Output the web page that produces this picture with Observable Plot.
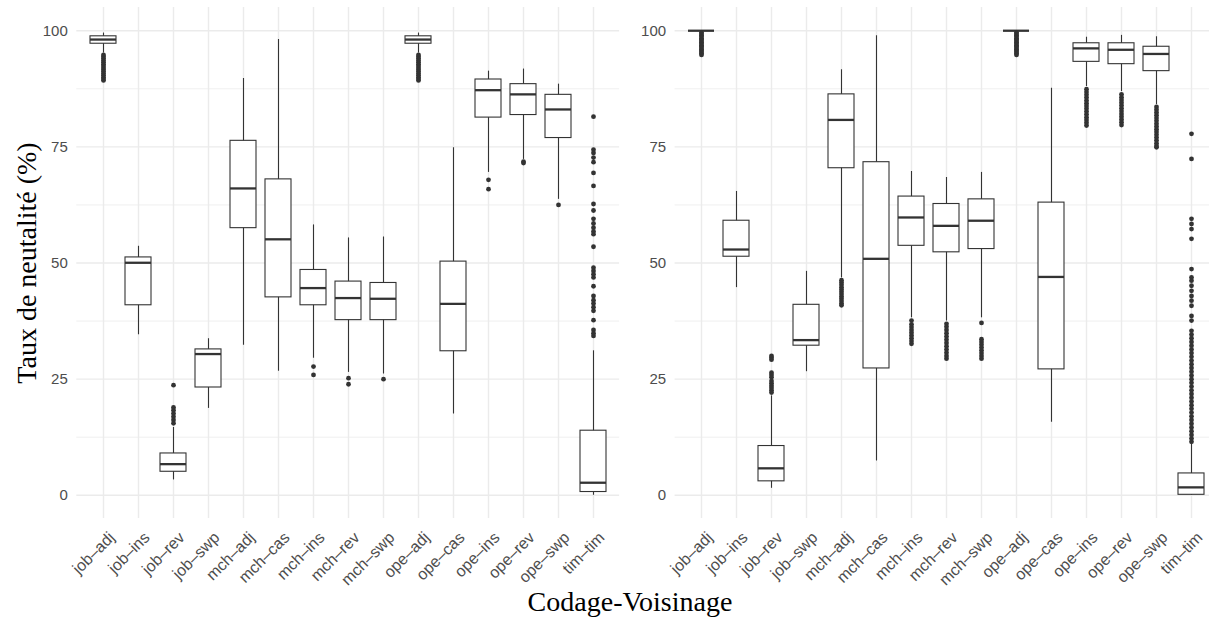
<!DOCTYPE html>
<html><head><meta charset="utf-8">
<script src="https://cdn.jsdelivr.net/npm/d3@7"></script>
<script src="https://cdn.jsdelivr.net/npm/@observablehq/plot@0.6"></script>
<style>
html,body{margin:0;padding:0;background:#fff;overflow:hidden;}
#wrap{position:relative;width:1209px;height:621px;overflow:hidden;background:#fff;}
#left{position:absolute;left:0;top:0;width:640px;}
#right{position:absolute;left:600px;top:0;width:620px;}
#wrap svg{max-width:none !important;background:transparent !important;}
#xtitle{position:absolute;left:0;width:1260px;text-align:center;top:588px;font-family:"Liberation Serif",serif;font-size:28px;line-height:28px;color:#000;}
</style></head>
<body><div id="wrap"><div id="left"></div><div id="right"></div><div id="xtitle"></div></div>
<script>
// ---- Data ----
const categories = ["job–adj","job–ins","job–rev","job–swp","mch–adj","mch–cas","mch–ins","mch–rev","mch–swp","ope–adj","ope–cas","ope–ins","ope–rev","ope–swp","tim–tim"];
const yTicks = [0, 25, 50, 75, 100];
const yMinorTicks = [12.5, 37.5, 62.5, 87.5];
const yTitle = "Taux de neutalité (%)";
const xTitle = "Codage-Voisinage";

// Left panel: box-plot statistics
const leftQ1     = [97.2, 40.9, 5.06, 23.2, 57.5, 42.6, 40.9, 37.7, 37.7, 97.2, 31.0, 81.3, 81.85, 76.9, 0.7];
const leftMedian = [98.1, 50.05, 6.7, 30.4, 66.05, 55.1, 44.6, 42.45, 42.3, 98.1, 41.2, 87.2, 86.3, 83.05, 2.7];
const leftQ3     = [98.8, 51.2, 9.0, 31.4, 76.3, 68.0, 48.5, 46.0, 45.7, 98.8, 50.3, 89.5, 88.5, 86.2, 13.9];
const leftLow    = [95.2, 34.55, 3.3, 18.7, 32.3, 26.7, 29.5, 26.45, 26.1, 95.2, 17.5, 69.5, 72.3, 63.7, 0.0];
const leftHigh   = [99.5, 53.6, 14.6, 33.7, 89.7, 98.1, 58.2, 55.4, 55.6, 99.5, 74.8, 91.3, 91.75, 88.5, 31.1];
const leftOutliers = [
  [94.8, 94.4, 94.0, 93.6, 93.2, 92.8, 92.4, 92.0, 91.6, 91.2, 90.8, 90.4, 90.0, 89.6, 89.3],
  [],
  [23.7, 18.9, 18.3, 17.6, 16.9, 16.2, 15.5],
  [],
  [],
  [],
  [27.7, 25.9],
  [25.2, 23.9],
  [25.0],
  [94.8, 94.4, 94.0, 93.6, 93.2, 92.8, 92.4, 92.0, 91.6, 91.2, 90.8, 90.4, 90.0, 89.6, 89.3],
  [],
  [67.9, 65.9],
  [71.8, 71.5],
  [62.5],
  [81.5, 74.4, 73.7, 72.7, 71.7, 69.4, 66.6, 62.7, 61.3, 59.5, 58.5, 57.6, 56.8, 56.2, 53.5, 49.0, 48.3, 47.6, 46.9, 45.0, 42.9, 42.0, 41.3, 40.5, 39.7, 37.7, 35.6, 34.9, 34.3]
];

// Right panel: box-plot statistics
const rightQ1     = [100, 51.35, 3.0, 32.2, 70.4, 27.3, 53.7, 52.3, 53.0, 100, 27.1, 93.3, 92.8, 91.3, 0.1];
const rightMedian = [100, 52.9, 5.8, 33.4, 80.8, 50.9, 59.8, 58.0, 59.1, 100, 47.0, 96.2, 95.9, 95.0, 1.7];
const rightQ3     = [100, 59.1, 10.6, 41.0, 86.3, 71.7, 64.3, 62.7, 63.7, 100, 63.0, 97.3, 97.3, 96.55, 4.7];
const rightLow    = [100, 44.7, 1.5, 26.6, 46.8, 7.4, 38.2, 37.5, 38.2, 100, 15.7, 88.0, 86.9, 84.1, 0.0];
const rightHigh   = [100, 65.4, 21.4, 48.2, 91.6, 98.9, 69.7, 68.4, 69.5, 100, 87.6, 98.6, 99.0, 98.7, 11.15];
const rightOutliers = [
  [99.6, 99.3, 99.0, 98.7, 98.4, 98.1, 97.8, 97.5, 97.2, 96.9, 96.6, 96.3, 96.0, 95.7, 95.4, 95.1, 94.8],
  [],
  [30.0, 29.6, 29.2, 26.4, 25.9, 25.4, 24.6, 24.1, 23.6, 23.1, 22.6, 22.1],
  [],
  [46.3, 45.8, 45.3, 44.8, 44.3, 43.8, 43.3, 42.8, 42.3, 41.8, 41.3, 40.9],
  [],
  [37.6, 36.8, 36.2, 35.6, 35.0, 34.4, 33.8, 33.2, 32.6],
  [36.9, 36.3, 35.6, 34.9, 34.2, 33.5, 32.8, 32.1, 31.4, 30.7, 30.0, 29.4],
  [37.1, 33.6, 33.0, 32.4, 31.8, 31.2, 30.6, 30.0, 29.4],
  [99.6, 99.3, 99.0, 98.7, 98.4, 98.1, 97.8, 97.5, 97.2, 96.9, 96.6, 96.3, 96.0, 95.7, 95.4, 95.1, 94.8],
  [],
  [87.4, 86.8, 86.2, 85.6, 85.0, 84.4, 83.8, 83.2, 82.6, 82.0, 81.4, 80.8, 80.2, 79.6],
  [86.3, 85.7, 85.1, 84.5, 83.9, 83.3, 82.7, 82.1, 81.5, 80.9, 80.3, 79.7],
  [83.6, 83.0, 82.4, 81.8, 81.2, 80.6, 80.0, 79.4, 78.8, 78.2, 77.6, 77.0, 76.4, 75.8, 75.2, 74.9],
  [77.8, 72.4, 59.5, 58.4, 57.3, 55.2, 48.7, 46.9, 46.2, 45.1, 44.0, 42.9, 41.9, 40.8, 38.6, 37.6,
   35.4, 34.6, 33.8, 33.0, 32.2, 31.4, 30.6, 29.8, 29.0, 28.2, 27.4, 26.6, 25.8, 25.0, 24.2, 23.4,
   22.6, 21.8, 21.0, 20.2, 19.4, 18.6, 17.8, 17.0, 16.2, 15.4, 14.6, 13.8, 13.0, 12.2, 11.5]
];

// ---- Drawing ----
const GRID = "#EBEBEB", INK = "#333333", TXT = "#4D4D4D";

function panel({q1, med, q3, lo, hi, outliers, width, marginLeft, marginRight, withTitle}) {
  const rows = categories.map((c, i) => ({cat: c, q1: q1[i], med: med[i], q3: q3[i], lo: lo[i], hi: hi[i]}));
  const pts = categories.flatMap((c, i) => outliers[i].map(v => ({cat: c, v})));
  const marks = [
    Plot.ruleY(yMinorTicks, {y: d => d, stroke: GRID, strokeWidth: 0.8}),
    Plot.ruleY(yTicks, {y: d => d, stroke: GRID, strokeWidth: 1.4}),
    Plot.ruleX(categories, {x: d => d, stroke: GRID, strokeWidth: 1.4}),
    Plot.ruleX(rows, {x: "cat", y1: "lo", y2: "hi", stroke: INK, strokeWidth: 1.1}),
    Plot.barY(rows, {x: "cat", y1: "q1", y2: "q3", fill: "white", stroke: INK, strokeWidth: 1.1}),
    Plot.tickY(rows, {x: "cat", y: "med", stroke: INK, strokeWidth: 2.3}),
    Plot.dot(pts, {x: "cat", y: "v", r: 2.4, fill: INK}),
    Plot.text(yTicks, {y: d => d, text: d => String(d), frameAnchor: "left", textAnchor: "end", dx: -9, fill: TXT, fontSize: 15}),
    Plot.text(categories, {x: d => d, text: d => d, frameAnchor: "bottom", rotate: -45, textAnchor: "end", lineAnchor: "top", dx: 4, dy: 12, fill: TXT, fontSize: 16})
  ];
  if (withTitle) {
    marks.push(Plot.text([yTitle], {text: d => d, frameAnchor: "left", rotate: -90, lineAnchor: "bottom", textAnchor: "middle", dx: -41, fontSize: 28, fontFamily: "Liberation Serif", fill: "#000"}));
  }
  return Plot.plot({
    width, height: 590, marginLeft, marginRight, marginTop: 7, marginBottom: 72,
    x: {type: "band", domain: categories, paddingInner: 0.25, paddingOuter: 0.225, axis: null},
    y: {domain: [-5, 105], axis: null},
    style: {fontFamily: "Liberation Sans, Arial, sans-serif", background: "transparent", overflow: "visible", maxWidth: "none"},
    marks
  });
}

document.getElementById("left").append(panel({
  q1: leftQ1, med: leftMedian, q3: leftQ3, lo: leftLow, hi: leftHigh, outliers: leftOutliers,
  width: 640, marginLeft: 76.3, marginRight: 20.9, withTitle: true
}));
document.getElementById("right").append(panel({
  q1: rightQ1, med: rightMedian, q3: rightQ3, lo: rightLow, hi: rightHigh, outliers: rightOutliers,
  width: 620, marginLeft: 74.6, marginRight: 2.3, withTitle: false
}));
document.getElementById("xtitle").textContent = xTitle;
</script>
</body></html>
